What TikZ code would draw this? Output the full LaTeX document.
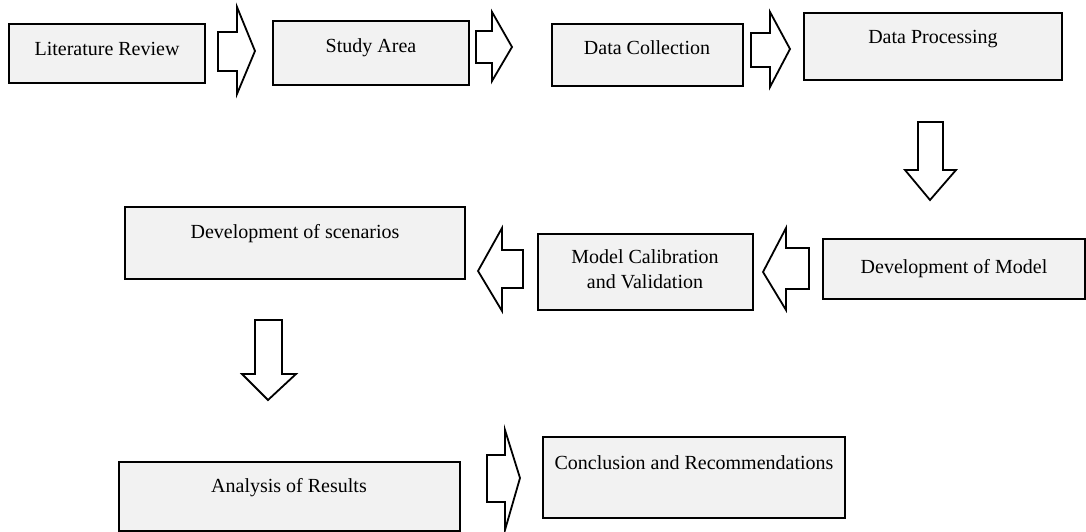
\documentclass[tikz,border=0pt]{standalone}
\usepackage{fontspec}
\setmainfont{Liberation Serif}
\definecolor{boxfill}{HTML}{F2F2F2}
\tikzset{
  box/.style={draw=black, line width=2.2pt, fill=boxfill, inner sep=0pt},
  lbl/.style={font=\fontsize{20}{23}\selectfont, align=center, text height=0.7em, text depth=0.2em, inner sep=0pt},
  blockarrow/.style={draw=black, line width=1.8pt, fill=white, line join=miter}
}
\newcommand{\boxat}[5]{% name, x1, y1, x2, y2
  \node[box, minimum width={(#4-#2)*1pt}, minimum height={(#5-#3)*1pt}] (#1) at ({(#2+#4)/2},{(#3+#5)/2}) {};}
\begin{document}
\begin{tikzpicture}[x=1pt,y=-1pt]
\useasboundingbox (0,0) rectangle (1086,532);
% boxes
\boxat{lit}{9}{24}{205}{83}
\boxat{study}{273}{21}{469}{85}
\boxat{coll}{552}{24}{743}{86}
\boxat{proc}{804}{13}{1062}{80}
\boxat{scen}{125}{207}{465}{279}
\boxat{calib}{538}{234}{753}{310}
\boxat{devm}{823}{239}{1085}{299}
\boxat{anal}{119}{462}{460}{531}
\boxat{concl}{543}{437}{845}{518}
% labels
\node[lbl] (tlit) at (107,53) {Literature Review};
\node[lbl] (tstudy) at (371,50) {Study Area};
\node[lbl] (tcoll) at (647,52) {Data Collection};
\node[lbl] (tproc) at (933,41) {Data Processing};
\node[lbl] (tscen) at (295,236) {Development of scenarios};
\node[lbl] (tcal1) at (645,261) {Model Calibration};
\node[lbl] (tcal2) at (645,286) {and Validation};
\node[lbl] (tdevm) at (954,271) {Development of Model};
\node[lbl] (tanal) at (289,490) {Analysis of Results};
\node[lbl] (tconcl) at (694,467) {Conclusion and Recommendations};
% block arrows
\draw[blockarrow] (218,32) -- (237,32) -- (237,7) -- (255,51) -- (237,94) -- (237,71) -- (218,71) -- cycle;
\draw[blockarrow] (476,31) -- (492,31) -- (492,12) -- (512,47) -- (492,81) -- (492,63) -- (476,63) -- cycle;
\draw[blockarrow] (751,33) -- (770,33) -- (770,12) -- (790,49) -- (770,87) -- (770,67) -- (751,67) -- cycle;
\draw[blockarrow] (918,122) -- (943,122) -- (943,170) -- (956,170) -- (930,200) -- (905,170) -- (918,170) -- cycle;
\draw[blockarrow] (523,250) -- (502,250) -- (502,228) -- (478,271) -- (502,311) -- (502,288) -- (523,288) -- cycle;
\draw[blockarrow] (809,248) -- (786,248) -- (786,228) -- (763,272) -- (786,310) -- (786,289) -- (809,289) -- cycle;
\draw[blockarrow] (255,320) -- (282,320) -- (282,374) -- (296,374) -- (268,400) -- (242,374) -- (255,374) -- cycle;
\draw[blockarrow] (487,455) -- (505,455) -- (505,430) -- (520,478) -- (505,530) -- (505,502) -- (487,502) -- cycle;
\end{tikzpicture}
\end{document}
